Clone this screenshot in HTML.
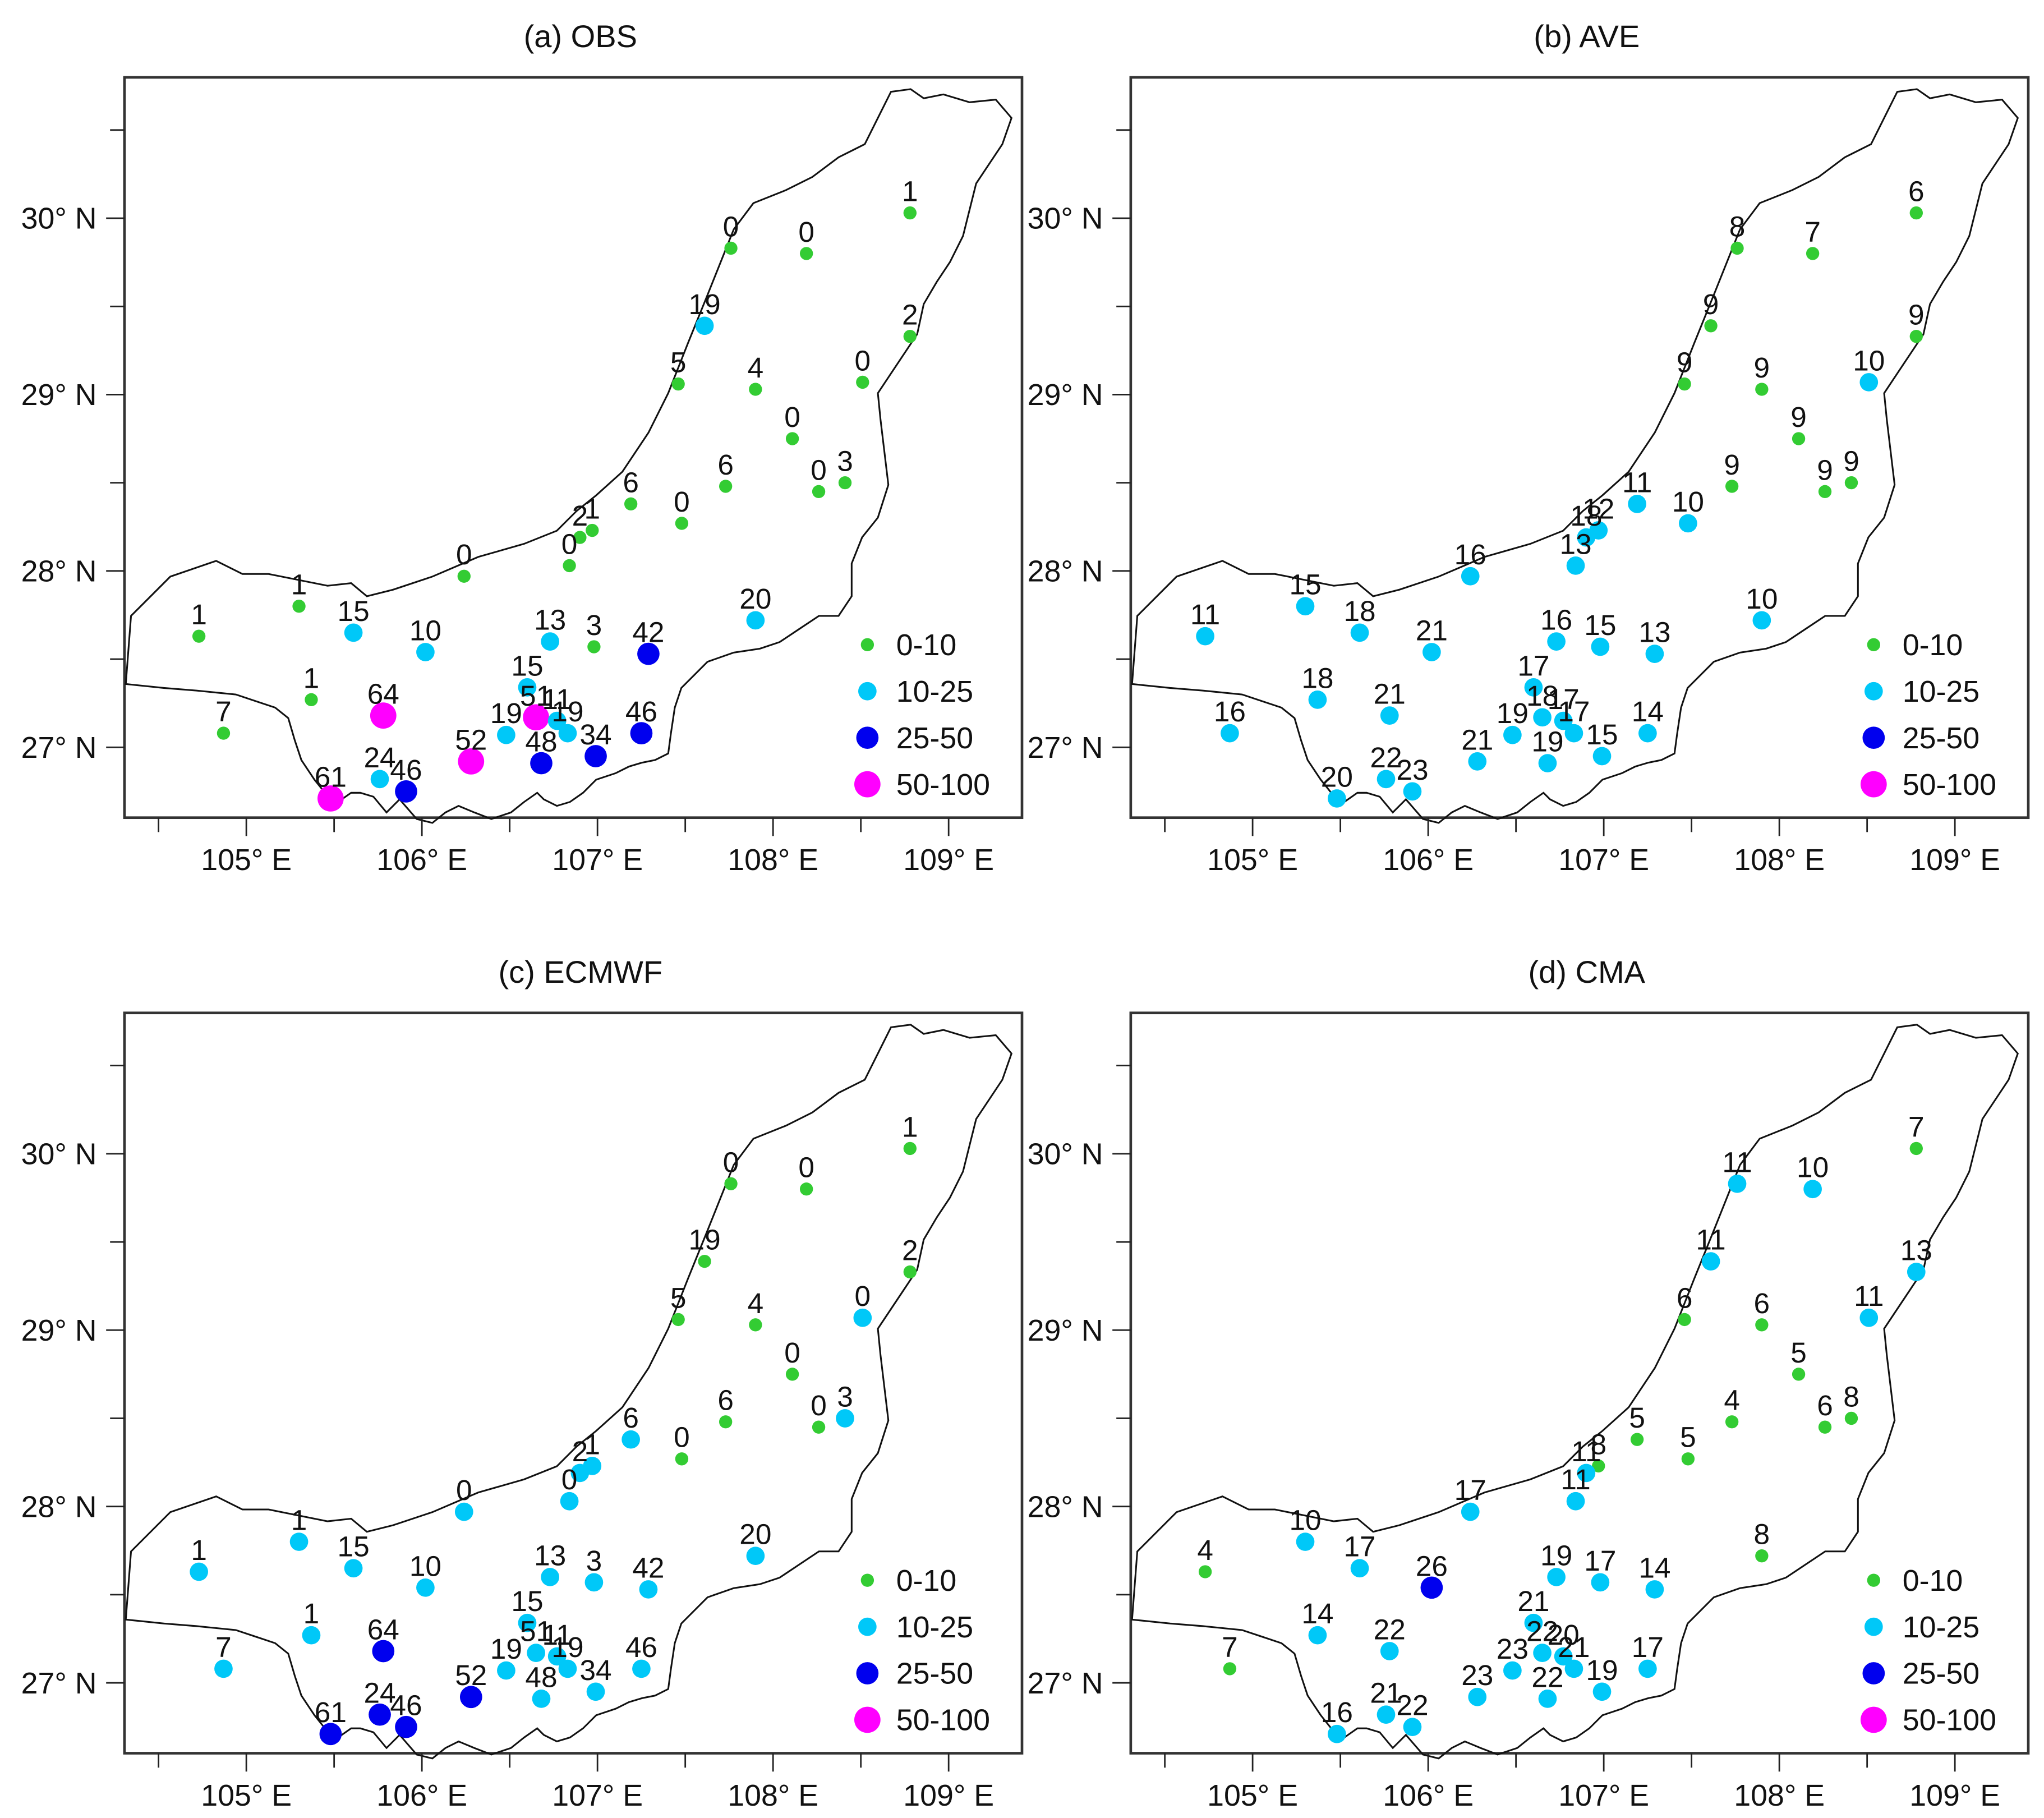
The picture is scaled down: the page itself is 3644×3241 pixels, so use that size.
<!DOCTYPE html>
<html><head><meta charset="utf-8"><style>
html,body{margin:0;padding:0;background:#fff;}
svg{display:block;}
text{font-family:"Liberation Sans",sans-serif;fill:#111;}
</style></head><body>
<svg id="chart" width="3644" height="3241" viewBox="0 0 1560 1387.4" xmlns="http://www.w3.org/2000/svg">
<defs>
<path id="basin" d="M96,522 L100,470 L130,440 L165,428 L185,438 L205,438 L225,442 L250,447 L268,445 L280,455 L300,450 L330,440 L365,425 L400,415 L425,405 L440,390 L455,378 L475,360 L495,330 L510,300 L525,262 L540,225 L550,200 L560,175 L575,155 L600,145 L620,135 L640,120 L660,110 L670,90 L680,70 L695,68 L705,75 L720,72 L740,78 L760,76 L772,90 L765,110 L755,125 L745,140 L740,160 L735,180 L725,200 L715,215 L705,232 L700,255 L690,270 L680,285 L670,300 L672,320 L675,345 L678,370 L670,395 L658,410 L650,430 L650,455 L640,470 L625,470 L610,480 L595,490 L580,495 L560,498 L540,505 L530,515 L520,525 L515,540 L512,560 L510,575 L500,580 L490,582 L480,585 L470,590 L455,595 L445,605 L435,612 L425,615 L415,610 L410,605 L400,612 L390,620 L375,625 L362,620 L350,615 L340,620 L330,628 L318,625 L305,610 L295,620 L285,608 L275,605 L268,605 L258,612 L248,605 L240,595 L230,580 L225,565 L220,548 L210,540 L195,535 L180,530 L150,527 L125,525 Z" fill="none" stroke="#111" stroke-width="1.3"/>
</defs>
</svg>
<script>
const stationLon=[108.78,107.76,108.19,107.61,108.78,107.46,107.90,108.51,108.11,107.73,108.26,108.41,107.19,107.48,106.97,106.90,106.84,106.24,107.90,105.30,104.73,105.61,106.02,106.73,106.98,107.29,105.37,105.78,104.87,106.60,106.65,106.77,106.48,107.25,106.28,106.68,106.99,105.76,105.91,105.48,106.83];
const stationLat=[30.03,29.83,29.80,29.39,29.33,29.06,29.03,29.07,28.75,28.48,28.45,28.50,28.38,28.27,28.23,28.19,28.03,27.97,27.72,27.80,27.63,27.65,27.54,27.60,27.57,27.53,27.27,27.18,27.08,27.34,27.17,27.15,27.07,27.08,26.92,26.91,26.95,26.82,26.75,26.71,27.08];
const obsValues=[1,0,0,19,2,5,4,0,0,6,0,3,6,0,1,2,0,0,20,1,1,15,10,13,3,42,1,64,7,15,51,11,19,46,52,48,34,24,46,61,19];
const aveValues=[6,8,7,9,9,9,9,10,9,9,9,9,11,10,12,18,13,16,10,15,11,18,21,16,15,13,18,21,16,17,18,17,19,14,21,19,15,22,23,20,17];
const ecmwfLabels=obsValues;
const ecmwfClass=[0,0,0,0,0,0,0,1,0,0,0,1,1,0,1,1,1,1,1,1,1,1,1,1,1,1,1,2,1,1,1,1,1,1,2,1,1,2,2,2,1];
const cmaValues=[7,11,10,11,13,6,6,11,5,4,6,8,5,5,8,11,11,17,8,10,4,17,26,19,17,14,14,22,7,21,22,20,23,17,23,22,19,21,22,16,21];
const classLabels=["0-10","10-25","25-50","50-100"];
const classColors=["#33cc33","#00c8f8","#0000ee","#ff00ff"];
const classRadius=[5,7,8.5,10];
const lonTicks=[105,106,107,108,109];
const latTicks=[27,28,29,30];

const NS="http://www.w3.org/2000/svg";
const svg=document.getElementById('chart');
function mk(tag,attrs,parent){const e=document.createElementNS(NS,tag);for(const k in attrs)e.setAttribute(k,attrs[k]);parent.appendChild(e);return e;}
function cls(v){return v<10?0:v<25?1:v<50?2:3;}
const xScale=lon=>188+(lon-105)*134;
const yScale=lat=>570.3-(lat-27)*134.6;

const panels=[
 {title:"(a) OBS",dx:0,dy:0,labels:obsValues,classes:obsValues.map(cls),name:"obs"},
 {title:"(b) AVE",dx:768,dy:0,labels:aveValues,classes:aveValues.map(cls),name:"ave"},
 {title:"(c) ECMWF",dx:0,dy:714,labels:ecmwfLabels,classes:ecmwfClass,name:"ecmwf"},
 {title:"(d) CMA",dx:768,dy:714,labels:cmaValues,classes:cmaValues.map(cls),name:"cma"}
];

panels.forEach(p=>{
 const g=mk('g',{transform:`translate(${p.dx},${p.dy})`},svg);
 
 
 const t=mk('text',{x:443,y:36,'text-anchor':'middle','font-size':24},g);
 t.textContent=p.title;
 
 
 const fr=mk('rect',{x:95,y:59,width:685,height:565,fill:'none',stroke:'#333','stroke-width':2},g);
 
 
 const b=mk('use',{href:'#basin'},g);
 
 
 // lat ticks
 for(let la=26.5;la<=30.6;la+=0.5){
  const y=yScale(la);if(y<60||y>623)continue;
  const major=Math.abs(la-Math.round(la))<0.01;
  mk('line',{x1:95-(major?14:11),x2:95,y1:y,y2:y,stroke:'#222','stroke-width':1.2},g);
 }
 latTicks.forEach(la=>{
  const tx=mk('text',{x:45,y:yScale(la)+8,'text-anchor':'middle','font-size':23},g);
  tx.textContent=la+"° N";
  
  
 });
 for(let lo=104.5;lo<=109.5;lo+=0.5){
  const x=xScale(lo);if(x<96||x>779)continue;
  const major=Math.abs(lo-Math.round(lo))<0.01;
  mk('line',{x1:x,x2:x,y1:624,y2:624+(major?14:11),stroke:'#222','stroke-width':1.2},g);
 }
 lonTicks.forEach(lo=>{
  const tx=mk('text',{x:xScale(lo),y:664,'text-anchor':'middle','font-size':23},g);
  tx.textContent=lo+"° E";
  
  
 });
 stationLon.forEach((lo,i)=>{
  const c=p.classes[i];
  const x=xScale(lo),y=yScale(stationLat[i]);
  const dot=mk('circle',{cx:x,cy:y,r:classRadius[c],fill:classColors[c]},g);
  
  
  const lt=mk('text',{x:x,y:y-9,'text-anchor':'middle','font-size':22},g);
  lt.textContent=p.labels[i];
  
  
 });
 classLabels.forEach((l,k)=>{
  const y=492+k*35.5;
  const ld=mk('circle',{cx:662,cy:y,r:classRadius[k],fill:classColors[k]},g);
  
  
  const lt=mk('text',{x:684,y:y+8,'font-size':23},g);
  lt.textContent=l;
  
  
 });
});
</script>
</body></html>
